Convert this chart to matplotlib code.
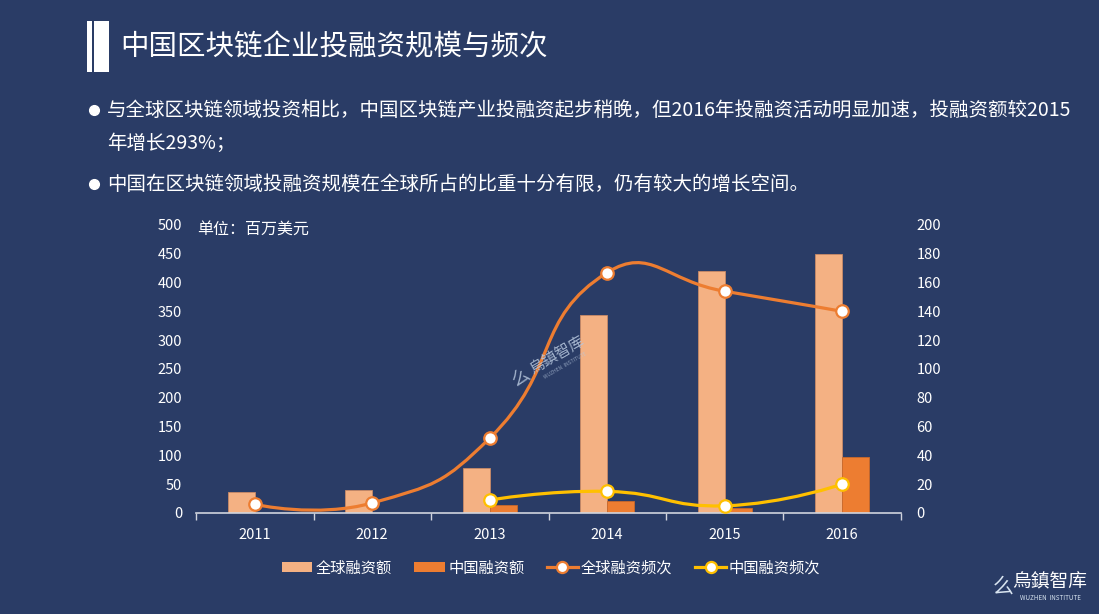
import matplotlib
matplotlib.use("Agg")
import matplotlib.pyplot as plt
import numpy as np
from matplotlib.path import Path
from matplotlib.patches import PathPatch, Rectangle
from matplotlib.lines import Line2D
from matplotlib.patches import Patch

plt.rcParams['font.family'] = ['Noto Sans CJK SC', 'DejaVu Sans']

# ---- data ----
years = ['2011', '2012', '2013', '2014', '2015', '2016']
global_amount = [36, 40, 78, 344, 421, 449]        # 百万美元
china_amount = [0, 0, 14, 21, 9, 97]               # 百万美元
global_freq = [6, 7, 52, 167, 154, 140]
china_freq = [None, None, 9, 15, 5, 20]

title = '中国区块链企业投融资规模与频次'
bullet1 = '与全球区块链领域投资相比，中国区块链产业投融资起步稍晚，但2016年投融资活动明显加速，投融资额较2015'
bullet1b = '年增长293%；'
bullet2 = '中国在区块链领域投融资规模在全球所占的比重十分有限，仍有较大的增长空间。'
unit_label = '单位：百万美元'
legend_labels = ['全球融资额', '中国融资额', '全球融资频次', '中国融资频次']

BG = '#2A3C66'
C_GLOBAL_BAR = '#F4B183'
C_CHINA_BAR = '#ED7D31'
C_GLOBAL_LINE = '#ED7D31'
C_CHINA_LINE = '#FFC000'
TXT = 'white'
AXC = '#D0D4DE'

W, H = 1099, 614
fig = plt.figure(figsize=(W / 100, H / 100), dpi=100, facecolor=BG)


def fx(px):
    return px / W


def fy(py):
    return 1 - py / H


# title block
fig.patches.append(Rectangle((fx(87), fy(72)), fx(5), 51 / H, transform=fig.transFigure,
                             facecolor='white', edgecolor='none'))
fig.patches.append(Rectangle((fx(94), fy(72)), fx(15), 51 / H, transform=fig.transFigure,
                             facecolor='white', edgecolor='none'))
fig.text(fx(120), fy(47), title, color=TXT, fontsize=20.5, va='center', ha='left')

# bullets
for yb in (110, 184):
    fig.add_artist(Line2D([fx(94)], [fy(yb)], transform=fig.transFigure, marker='o',
                          markersize=7, color='white', linestyle='none'))
fig.text(fx(107), fy(110), bullet1, color=TXT, fontsize=14, va='center', ha='left')
fig.text(fx(107), fy(143), bullet1b, color=TXT, fontsize=14, va='center', ha='left')
fig.text(fx(107), fy(184), bullet2, color=TXT, fontsize=14, va='center', ha='left')

# axes
ax = fig.add_axes([fx(196), fy(513), (901 - 196) / W, (513 - 225) / H])
ax.set_facecolor('none')
ax2 = ax.twinx()
x = np.arange(len(years))
bw = 0.23
ax.bar(x, global_amount, width=-bw, align='edge', color=C_GLOBAL_BAR,
       edgecolor='#C98A66', linewidth=0.6, zorder=2)
ax.bar(x, china_amount, width=bw, align='edge', color=C_CHINA_BAR,
       edgecolor='#C9692A', linewidth=0.6, zorder=2)
ax.set_xlim(-0.5, len(years) - 0.5)
ax.set_ylim(0, 500)
ax.set_yticks(np.arange(0, 501, 50))
ax2.set_ylim(0, 200)
ax2.set_yticks(np.arange(0, 201, 20))

for a in (ax, ax2):
    for s in ('top', 'left', 'right', 'bottom'):
        a.spines[s].set_visible(False)
ax.spines['bottom'].set_visible(True)
ax.spines['bottom'].set_color(AXC)
ax.spines['bottom'].set_linewidth(1.2)

ax.set_xticks(np.arange(-0.5, len(years), 1.0))
ax.set_xticklabels([])
ax.set_xticks(x, minor=True)
ax.set_xticklabels(years, minor=True)
ax.tick_params(axis='x', which='major', length=5, color=AXC, width=1)
ax.tick_params(axis='x', which='minor', length=0, pad=11, labelcolor=TXT, labelsize=10.5)
ax.tick_params(axis='y', length=0, labelcolor=TXT, labelsize=10.5, pad=10)
ax2.tick_params(axis='y', length=0, labelcolor=TXT, labelsize=10.5, pad=11)
ax2.set_xlim(ax.get_xlim())

fig.text(fx(197), fy(229), unit_label, color=TXT, fontsize=11.5, va='center', ha='left')


def smooth_path(axis, xs, ys, smooth=0.5):
    pts = np.array([axis.transData.transform((xx, yy)) for xx, yy in zip(xs, ys)])
    n = len(pts)
    cps = []
    for i in range(n):
        p = pts[i]
        if i == 0 or i == n - 1:
            cps.append(p.copy())
            continue
        prev, nxt = pts[i - 1], pts[i + 1]
        v = (nxt - prev) * smooth
        d0 = np.linalg.norm(p - prev)
        d1 = np.linalg.norm(p - nxt)
        s = d0 + d1
        if s:
            d0 /= s
            d1 /= s
        cps.append(p - v * d0)
        cps.append(p + v * d1)
    verts = [pts[0]]
    codes = [Path.MOVETO]
    for i in range(n - 1):
        verts += [cps[2 * i], cps[2 * i + 1], pts[i + 1]]
        codes += [Path.CURVE4] * 3
    inv = axis.transData.inverted()
    verts = inv.transform(np.array(verts))
    return Path(verts, codes)


def draw_series(vals, color):
    xs = [i for i, v in enumerate(vals) if v is not None]
    ys = [v for v in vals if v is not None]
    path = smooth_path(ax2, xs, ys)
    ax2.add_patch(PathPatch(path, facecolor='none', edgecolor=color, lw=2.3, zorder=3))
    ax2.plot(xs, ys, linestyle='none', marker='o', markersize=9, markerfacecolor='white',
             markeredgecolor=color, markeredgewidth=1.6, zorder=4)


draw_series(global_freq, C_GLOBAL_LINE)
draw_series(china_freq, C_CHINA_LINE)

# watermark
WM = '#B8C8DE'
fig.text(fx(522), fy(378), '么', color=WM, alpha=0.85, fontsize=13, rotation=30,
         ha='center', va='center')
fig.text(fx(557), fy(355), '烏鎮智库', color=WM, alpha=0.85, fontsize=11, rotation=30,
         ha='center', va='center')
fig.text(fx(565), fy(366), 'WUZHEN  INSTITUTE', color=WM, alpha=0.7, fontsize=3.6,
         rotation=30, ha='center', va='center')

# legend
handles = [Patch(facecolor=C_GLOBAL_BAR, edgecolor='none'),
           Patch(facecolor=C_CHINA_BAR, edgecolor='none'),
           Line2D([0], [0], color=C_GLOBAL_LINE, lw=2.3, marker='o', markersize=8,
                  markerfacecolor='white', markeredgecolor=C_GLOBAL_LINE, markeredgewidth=1.6),
           Line2D([0], [0], color=C_CHINA_LINE, lw=2.3, marker='o', markersize=8,
                  markerfacecolor='white', markeredgecolor=C_CHINA_LINE, markeredgewidth=1.6)]
leg = fig.legend(handles, legend_labels, loc='center', bbox_to_anchor=(fx(551), fy(568)),
                 ncol=4, frameon=False, fontsize=11, labelcolor=TXT, handlelength=2.0,
                 handleheight=0.65, handletextpad=0.2, columnspacing=1.5)

# logo bottom right
fig.text(fx(1003), fy(587), '么', color='#D8E4F0', fontsize=15, ha='center', va='center')
fig.text(fx(1050), fy(582), '烏鎮智库', color='white', fontsize=13.5, ha='center', va='center')
fig.text(fx(1050), fy(598), 'WUZHEN  INSTITUTE', color='#D8E4F0', fontsize=4.5,
         ha='center', va='center')

fig.savefig('out.png', dpi=100, facecolor=BG)
